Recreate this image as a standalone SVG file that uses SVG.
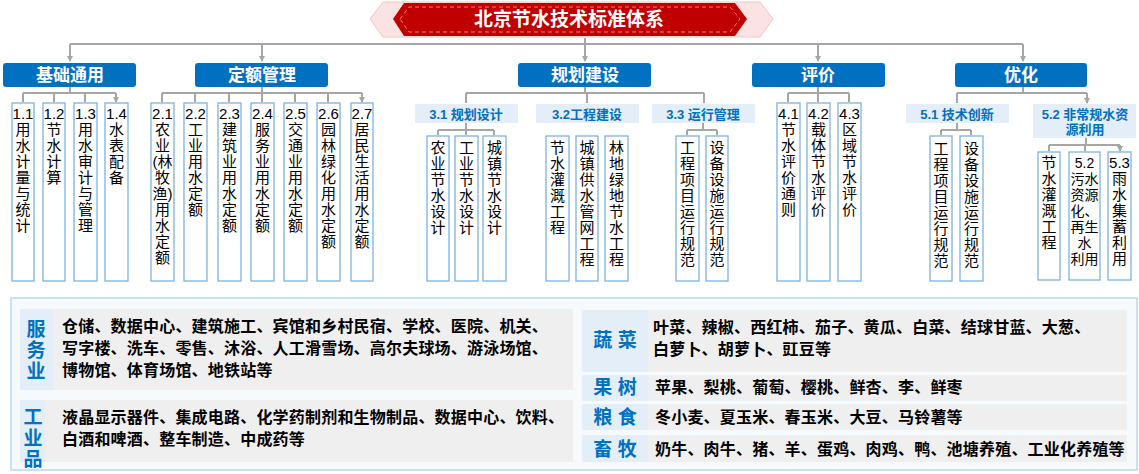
<svg xmlns="http://www.w3.org/2000/svg" width="1139" height="474" viewBox="0 0 1139 474">
<style>
.cat{fill:#0070c0;}
.catt{fill:#fff;font:bold 17px "Liberation Sans","Noto Sans CJK SC",sans-serif;text-anchor:middle;}
.box{fill:#fff;stroke:#7fb2dd;stroke-width:1.3;}
.bt{fill:#000;font:15px "Liberation Sans","Noto Sans CJK SC",sans-serif;text-anchor:middle;}
.sub{fill:#e3eef8;}
.subt{fill:#0070c0;font:bold 13px "Liberation Sans","Noto Sans CJK SC",sans-serif;text-anchor:middle;}
.con{fill:none;stroke:#a6a6a6;stroke-width:2;}
.hd{fill:#e3eef8;}
.hdt{fill:#0070c0;font:bold 19px "Liberation Sans","Noto Sans CJK SC",sans-serif;text-anchor:middle;}
.tb{fill:#efefef;}
.tt{fill:#000;font:bold 16px "Liberation Sans","Noto Sans CJK SC",sans-serif;letter-spacing:0.2px;}
</style>
<defs>
<marker id="ar" markerWidth="6" markerHeight="6" refX="5" refY="3" orient="auto" markerUnits="userSpaceOnUse"><path d="M0,0 L6,3 L0,6 z" fill="#a6a6a6"/></marker>
</defs>
<rect width="1139" height="474" fill="#fff"/>
<g id="title">
<polygon points="370,19 383,2 760,2 773,19 760,37 383,37" fill="#fbe3e3" stroke="#f3c3c3"/>
<polygon points="393,19 404,3 735,3 747,19 735,36 404,36" fill="#c00000"/>
<polygon points="400,19 409,7 730,7 740,19 730,32 409,32" fill="none" stroke="#f08080" stroke-dasharray="4,3"/>
<text x="569" y="26" style="fill:#fff;font:bold 19px 'Liberation Sans','Noto Sans CJK SC',sans-serif;text-anchor:middle">北京节水技术标准体系</text>
</g>
<g id="connectors">
<path class="con" d="M585,38 V61" marker-end="url(#ar)"/>
<path class="con" d="M70,44 H1023"/>
<path class="con" d="M70,44 V61" marker-end="url(#ar)"/>
<path class="con" d="M262,44 V61" marker-end="url(#ar)"/>
<path class="con" d="M818,44 V61" marker-end="url(#ar)"/>
<path class="con" d="M1023,44 V61" marker-end="url(#ar)"/>
<g style="stroke-width:1.5">
<path class="con" d="M70,87 V93 M23,93 H116 M262,87 V93 M162,93 H362 M585,87 V93 M466,93 H704 M818,87 V93 M788,93 H849 M1023,87 V93 M957,93 H1087"/>
<path class="con" d="M23,93 V102 M54,93 V102 M85,93 V102 M116,93 V102" marker-end="url(#ar)"/>
<path class="con" d="M162,93 V102 M195,93 V102 M229,93 V102 M262,93 V102 M295,93 V102 M328,93 V102 M362,93 V102" marker-end="url(#ar)"/>
<path class="con" d="M466,93 V103 M587,93 V103 M704,93 V103 M788,93 V102 M818,93 V102 M849,93 V102 M957,93 V103 M1087,93 V103" marker-end="url(#ar)"/>
<path class="con" d="M466,123 V130 M438,130 H494 M703,123 V130 M687,130 H717 M957,123 V130 M941,130 H971 M1086,138 V145 M1049,145 H1120"/>
<path class="con" d="M438,130 V135 M466,130 V135 M494,130 V135 M687,130 V135 M717,130 V135 M941,130 V135 M971,130 V135 M1049,145 V151 M1085,145 V151 M1120,145 V151" marker-end="url(#ar)"/>
</g>
</g>
<g id="cat1"><rect class="cat" x="3" y="63" width="133" height="24" rx="3"/><text class="catt" x="70" y="81">基础通用</text></g>
<g id="cat2"><rect class="cat" x="195" y="63" width="133" height="24" rx="3"/><text class="catt" x="262" y="81">定额管理</text></g>
<g id="cat3"><rect class="cat" x="518" y="63" width="133" height="24" rx="3"/><text class="catt" x="585" y="81">规划建设</text></g>
<g id="cat4"><rect class="cat" x="752" y="63" width="133" height="24" rx="3"/><text class="catt" x="818" y="81">评价</text></g>
<g id="cat5"><rect class="cat" x="955" y="63" width="132" height="24" rx="3"/><text class="catt" x="1021" y="81">优化</text></g>

<g id="n11"><rect class="box" x="12" y="103" width="22" height="178"/><text class="bt" y="119"><tspan x="23">1.1</tspan><tspan x="23" dy="16">用</tspan><tspan x="23" dy="16">水</tspan><tspan x="23" dy="16">计</tspan><tspan x="23" dy="16">量</tspan><tspan x="23" dy="16">与</tspan><tspan x="23" dy="16">统</tspan><tspan x="23" dy="16">计</tspan></text></g>
<g id="n12"><rect class="box" x="43" y="103" width="22" height="178"/><text class="bt" y="119"><tspan x="54">1.2</tspan><tspan x="54" dy="16">节</tspan><tspan x="54" dy="16">水</tspan><tspan x="54" dy="16">计</tspan><tspan x="54" dy="16">算</tspan></text></g>
<g id="n13"><rect class="box" x="74" y="103" width="23" height="178"/><text class="bt" y="119"><tspan x="85.5">1.3</tspan><tspan x="85.5" dy="16">用</tspan><tspan x="85.5" dy="16">水</tspan><tspan x="85.5" dy="16">审</tspan><tspan x="85.5" dy="16">计</tspan><tspan x="85.5" dy="16">与</tspan><tspan x="85.5" dy="16">管</tspan><tspan x="85.5" dy="16">理</tspan></text></g>
<g id="n14"><rect class="box" x="105" y="103" width="23" height="178"/><text class="bt" y="119"><tspan x="116.5">1.4</tspan><tspan x="116.5" dy="16">水</tspan><tspan x="116.5" dy="16">表</tspan><tspan x="116.5" dy="16">配</tspan><tspan x="116.5" dy="16">备</tspan></text></g>

<g id="n21"><rect class="box" x="151" y="103" width="23" height="178"/><text class="bt" y="119"><tspan x="162.5">2.1</tspan><tspan x="162.5" dy="16">农</tspan><tspan x="162.5" dy="16">业</tspan><tspan x="162.5" dy="16">(林</tspan><tspan x="162.5" dy="16">牧</tspan><tspan x="162.5" dy="16">渔)</tspan><tspan x="162.5" dy="16">用</tspan><tspan x="162.5" dy="16">水</tspan><tspan x="162.5" dy="16">定</tspan><tspan x="162.5" dy="16">额</tspan></text></g>
<g id="n22"><rect class="box" x="184" y="103" width="23" height="178"/><text class="bt" y="119"><tspan x="195.5">2.2</tspan><tspan x="195.5" dy="16">工</tspan><tspan x="195.5" dy="16">业</tspan><tspan x="195.5" dy="16">用</tspan><tspan x="195.5" dy="16">水</tspan><tspan x="195.5" dy="16">定</tspan><tspan x="195.5" dy="16">额</tspan></text></g>
<g id="n23"><rect class="box" x="218" y="103" width="23" height="178"/><text class="bt" y="119"><tspan x="229.5">2.3</tspan><tspan x="229.5" dy="16">建</tspan><tspan x="229.5" dy="16">筑</tspan><tspan x="229.5" dy="16">业</tspan><tspan x="229.5" dy="16">用</tspan><tspan x="229.5" dy="16">水</tspan><tspan x="229.5" dy="16">定</tspan><tspan x="229.5" dy="16">额</tspan></text></g>
<g id="n24"><rect class="box" x="251" y="103" width="23" height="178"/><text class="bt" y="119"><tspan x="262.5">2.4</tspan><tspan x="262.5" dy="16">服</tspan><tspan x="262.5" dy="16">务</tspan><tspan x="262.5" dy="16">业</tspan><tspan x="262.5" dy="16">用</tspan><tspan x="262.5" dy="16">水</tspan><tspan x="262.5" dy="16">定</tspan><tspan x="262.5" dy="16">额</tspan></text></g>
<g id="n25"><rect class="box" x="284" y="103" width="23" height="178"/><text class="bt" y="119"><tspan x="295.5">2.5</tspan><tspan x="295.5" dy="16">交</tspan><tspan x="295.5" dy="16">通</tspan><tspan x="295.5" dy="16">业</tspan><tspan x="295.5" dy="16">用</tspan><tspan x="295.5" dy="16">水</tspan><tspan x="295.5" dy="16">定</tspan><tspan x="295.5" dy="16">额</tspan></text></g>
<g id="n26"><rect class="box" x="317" y="103" width="23" height="178"/><text class="bt" y="119"><tspan x="328.5">2.6</tspan><tspan x="328.5" dy="16">园</tspan><tspan x="328.5" dy="16">林</tspan><tspan x="328.5" dy="16">绿</tspan><tspan x="328.5" dy="16">化</tspan><tspan x="328.5" dy="16">用</tspan><tspan x="328.5" dy="16">水</tspan><tspan x="328.5" dy="16">定</tspan><tspan x="328.5" dy="16">额</tspan></text></g>
<g id="n27"><rect class="box" x="351" y="103" width="22" height="178"/><text class="bt" y="119"><tspan x="362">2.7</tspan><tspan x="362" dy="16">居</tspan><tspan x="362" dy="16">民</tspan><tspan x="362" dy="16">生</tspan><tspan x="362" dy="16">活</tspan><tspan x="362" dy="16">用</tspan><tspan x="362" dy="16">水</tspan><tspan x="362" dy="16">定</tspan><tspan x="362" dy="16">额</tspan></text></g>

<g id="s31"><rect class="sub" x="415" y="104" width="103" height="19"/><text class="subt" x="466" y="119">3.1 规划设计</text></g>
<g id="s32"><rect class="sub" x="536" y="104" width="103" height="19"/><text class="subt" x="587" y="119">3.2工程建设</text></g>
<g id="s33"><rect class="sub" x="652" y="104" width="103" height="19"/><text class="subt" x="703" y="119">3.3 运行管理</text></g>
<g id="n311"><rect class="box" x="427" y="136" width="22" height="145"/><text class="bt" y="153"><tspan x="438">农</tspan><tspan x="438" dy="16">业</tspan><tspan x="438" dy="16">节</tspan><tspan x="438" dy="16">水</tspan><tspan x="438" dy="16">设</tspan><tspan x="438" dy="16">计</tspan></text></g>
<g id="n312"><rect class="box" x="455" y="136" width="23" height="145"/><text class="bt" y="153"><tspan x="466.5">工</tspan><tspan x="466.5" dy="16">业</tspan><tspan x="466.5" dy="16">节</tspan><tspan x="466.5" dy="16">水</tspan><tspan x="466.5" dy="16">设</tspan><tspan x="466.5" dy="16">计</tspan></text></g>
<g id="n313"><rect class="box" x="483" y="136" width="23" height="145"/><text class="bt" y="153"><tspan x="494.5">城</tspan><tspan x="494.5" dy="16">镇</tspan><tspan x="494.5" dy="16">节</tspan><tspan x="494.5" dy="16">水</tspan><tspan x="494.5" dy="16">设</tspan><tspan x="494.5" dy="16">计</tspan></text></g>
<g id="n321"><rect class="box" x="546" y="136" width="23" height="145"/><text class="bt" y="153"><tspan x="557.5">节</tspan><tspan x="557.5" dy="16">水</tspan><tspan x="557.5" dy="16">灌</tspan><tspan x="557.5" dy="16">溉</tspan><tspan x="557.5" dy="16">工</tspan><tspan x="557.5" dy="16">程</tspan></text></g>
<g id="n322"><rect class="box" x="576" y="136" width="22" height="145"/><text class="bt" y="153"><tspan x="587">城</tspan><tspan x="587" dy="16">镇</tspan><tspan x="587" dy="16">供</tspan><tspan x="587" dy="16">水</tspan><tspan x="587" dy="16">管</tspan><tspan x="587" dy="16">网</tspan><tspan x="587" dy="16">工</tspan><tspan x="587" dy="16">程</tspan></text></g>
<g id="n323"><rect class="box" x="605" y="136" width="23" height="145"/><text class="bt" y="153"><tspan x="616.5">林</tspan><tspan x="616.5" dy="16">地</tspan><tspan x="616.5" dy="16">绿</tspan><tspan x="616.5" dy="16">地</tspan><tspan x="616.5" dy="16">节</tspan><tspan x="616.5" dy="16">水</tspan><tspan x="616.5" dy="16">工</tspan><tspan x="616.5" dy="16">程</tspan></text></g>
<g id="n331"><rect class="box" x="676" y="136" width="23" height="145"/><text class="bt" y="153"><tspan x="687.5">工</tspan><tspan x="687.5" dy="16">程</tspan><tspan x="687.5" dy="16">项</tspan><tspan x="687.5" dy="16">目</tspan><tspan x="687.5" dy="16">运</tspan><tspan x="687.5" dy="16">行</tspan><tspan x="687.5" dy="16">规</tspan><tspan x="687.5" dy="16">范</tspan></text></g>
<g id="n332"><rect class="box" x="706" y="136" width="22" height="145"/><text class="bt" y="153"><tspan x="717">设</tspan><tspan x="717" dy="16">备</tspan><tspan x="717" dy="16">设</tspan><tspan x="717" dy="16">施</tspan><tspan x="717" dy="16">运</tspan><tspan x="717" dy="16">行</tspan><tspan x="717" dy="16">规</tspan><tspan x="717" dy="16">范</tspan></text></g>

<g id="n41"><rect class="box" x="777" y="103" width="23" height="178"/><text class="bt" y="119"><tspan x="788.5">4.1</tspan><tspan x="788.5" dy="16">节</tspan><tspan x="788.5" dy="16">水</tspan><tspan x="788.5" dy="16">评</tspan><tspan x="788.5" dy="16">价</tspan><tspan x="788.5" dy="16">通</tspan><tspan x="788.5" dy="16">则</tspan></text></g>
<g id="n42"><rect class="box" x="807" y="103" width="23" height="178"/><text class="bt" y="119"><tspan x="818.5">4.2</tspan><tspan x="818.5" dy="16">载</tspan><tspan x="818.5" dy="16">体</tspan><tspan x="818.5" dy="16">节</tspan><tspan x="818.5" dy="16">水</tspan><tspan x="818.5" dy="16">评</tspan><tspan x="818.5" dy="16">价</tspan></text></g>
<g id="n43"><rect class="box" x="838" y="103" width="23" height="178"/><text class="bt" y="119"><tspan x="849.5">4.3</tspan><tspan x="849.5" dy="16">区</tspan><tspan x="849.5" dy="16">域</tspan><tspan x="849.5" dy="16">节</tspan><tspan x="849.5" dy="16">水</tspan><tspan x="849.5" dy="16">评</tspan><tspan x="849.5" dy="16">价</tspan></text></g>

<g id="s51"><rect class="sub" x="906" y="104" width="103" height="19"/><text class="subt" x="957" y="119">5.1 技术创新</text></g>
<g id="s52"><rect class="sub" x="1033" y="104" width="103" height="34"/><text class="subt" y="119"><tspan x="1085">5.2 非常规水资</tspan><tspan x="1085" dy="15">源利用</tspan></text></g>
<g id="n511"><rect class="box" x="930" y="136" width="22" height="145"/><text class="bt" y="154"><tspan x="941">工</tspan><tspan x="941" dy="16">程</tspan><tspan x="941" dy="16">项</tspan><tspan x="941" dy="16">目</tspan><tspan x="941" dy="16">运</tspan><tspan x="941" dy="16">行</tspan><tspan x="941" dy="16">规</tspan><tspan x="941" dy="16">范</tspan></text></g>
<g id="n512"><rect class="box" x="960" y="136" width="23" height="145"/><text class="bt" y="154"><tspan x="971.5">设</tspan><tspan x="971.5" dy="16">备</tspan><tspan x="971.5" dy="16">设</tspan><tspan x="971.5" dy="16">施</tspan><tspan x="971.5" dy="16">运</tspan><tspan x="971.5" dy="16">行</tspan><tspan x="971.5" dy="16">规</tspan><tspan x="971.5" dy="16">范</tspan></text></g>
<g id="n521"><rect class="box" x="1038" y="152" width="22" height="128"/><text class="bt" y="168"><tspan x="1049">节</tspan><tspan x="1049" dy="16">水</tspan><tspan x="1049" dy="16">灌</tspan><tspan x="1049" dy="16">溉</tspan><tspan x="1049" dy="16">工</tspan><tspan x="1049" dy="16">程</tspan></text></g>
<g id="n522"><rect class="box" x="1069" y="152" width="31" height="128"/><text class="bt" y="168" style="font-size:14px"><tspan x="1084.5">5.2</tspan><tspan x="1084.5" dy="16">污水</tspan><tspan x="1084.5" dy="16">资源</tspan><tspan x="1084.5" dy="16">化、</tspan><tspan x="1084.5" dy="16">再生</tspan><tspan x="1084.5" dy="16">水</tspan><tspan x="1084.5" dy="16">利用</tspan></text></g>
<g id="n523"><rect class="box" x="1108" y="152" width="23" height="128"/><text class="bt" y="168"><tspan x="1119.5">5.3</tspan><tspan x="1119.5" dy="16">雨</tspan><tspan x="1119.5" dy="16">水</tspan><tspan x="1119.5" dy="16">集</tspan><tspan x="1119.5" dy="16">蓄</tspan><tspan x="1119.5" dy="16">利</tspan><tspan x="1119.5" dy="16">用</tspan></text></g>

<g id="panel">
<rect x="11" y="298" width="1126" height="172" fill="#f7fafd" stroke="#bdd7ee" stroke-width="1.5"/>
<rect class="hd" x="20" y="309" width="33" height="81"/><rect class="tb" x="53" y="309" width="520" height="81"/>
<text class="hdt" y="336"><tspan x="36">服</tspan><tspan x="36" dy="21">务</tspan><tspan x="36" dy="21">业</tspan></text>
<text class="tt" y="332"><tspan x="62">仓储、数据中心、建筑施工、宾馆和乡村民宿、学校、医院、机关、</tspan><tspan x="62" dy="22">写字楼、洗车、零售、沐浴、人工滑雪场、高尔夫球场、游泳场馆、</tspan><tspan x="62" dy="22">博物馆、体育场馆、地铁站等</tspan></text>
<rect class="hd" x="20" y="400" width="25" height="62"/><rect class="tb" x="45" y="400" width="528" height="62"/>
<text class="hdt" y="424"><tspan x="33">工</tspan><tspan x="33" dy="21">业</tspan><tspan x="33" dy="21">品</tspan></text>
<text class="tt" y="423"><tspan x="62">液晶显示器件、集成电路、化学药制剂和生物制品、数据中心、饮料、</tspan><tspan x="62" dy="22">白酒和啤酒、整车制造、中成药等</tspan></text>
<rect class="hd" x="582" y="310" width="66" height="62"/><rect class="tb" x="648" y="310" width="479" height="62"/>
<text class="hdt" x="615" y="347">蔬 菜</text>
<text class="tt" y="333"><tspan x="653">叶菜、辣椒、西红柿、茄子、黄瓜、白菜、结球甘蓝、大葱、</tspan><tspan x="653" dy="22">白萝卜、胡萝卜、豇豆等</tspan></text>
<rect class="hd" x="582" y="375" width="66" height="26"/><rect class="tb" x="648" y="375" width="479" height="26"/>
<text class="hdt" x="615" y="394">果 树</text><text class="tt" x="655" y="393">苹果、梨桃、葡萄、樱桃、鲜杏、李、鲜枣</text>
<rect class="hd" x="582" y="404" width="66" height="26"/><rect class="tb" x="648" y="404" width="479" height="26"/>
<text class="hdt" x="615" y="424">粮 食</text><text class="tt" x="655" y="423">冬小麦、夏玉米、春玉米、大豆、马铃薯等</text>
<rect class="hd" x="582" y="435" width="66" height="27"/><rect class="tb" x="648" y="435" width="479" height="27"/>
<text class="hdt" x="615" y="456">畜 牧</text><text class="tt" x="655" y="455">奶牛、肉牛、猪、羊、蛋鸡、肉鸡、鸭、池塘养殖、工业化养殖等</text>
</g>
</svg>
